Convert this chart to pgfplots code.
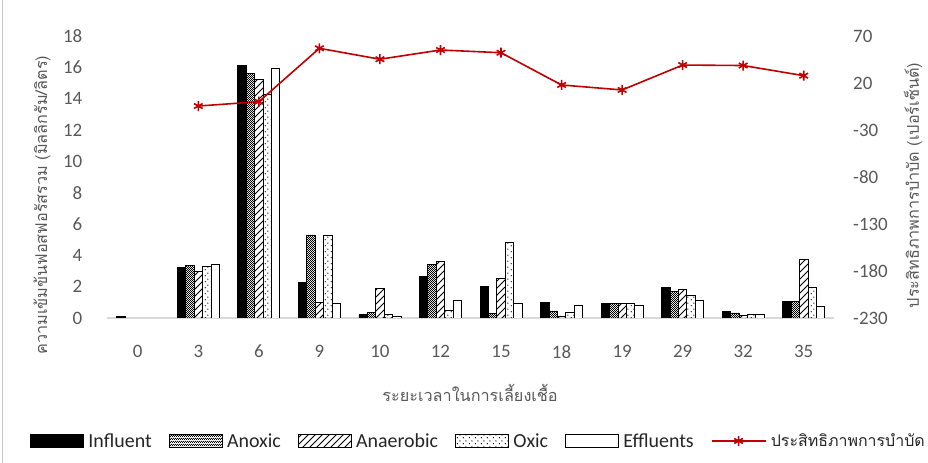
\documentclass[border=0pt]{standalone}
\usepackage{fontspec}
\setmainfont{Carlito}
\newfontfamily\thaifont[Script=Thai]{Loma}
\usepackage{pgfplots}
\pgfplotsset{compat=1.18}
\usetikzlibrary{patterns}
\definecolor{tickgray}{HTML}{595959}
\definecolor{textdark}{HTML}{262626}
\definecolor{linered}{HTML}{C00000}
\definecolor{basegray}{HTML}{D9D9D9}

\pgfdeclarepatternformonly{finecheck}{\pgfqpoint{0bp}{0bp}}{\pgfqpoint{2.4bp}{2.4bp}}{\pgfqpoint{2.4bp}{2.4bp}}{%
 \pgfpathrectangle{\pgfqpoint{0bp}{0bp}}{\pgfqpoint{1.2bp}{1.2bp}}%
 \pgfpathrectangle{\pgfqpoint{1.2bp}{1.2bp}}{\pgfqpoint{1.2bp}{1.2bp}}%
 \pgfusepath{fill}}
\pgfdeclarepatternformonly{widehatch}{\pgfqpoint{-1bp}{-1bp}}{\pgfqpoint{8bp}{8bp}}{\pgfqpoint{7bp}{7bp}}{%
 \pgfsetlinewidth{1bp}%
 \pgfpathmoveto{\pgfqpoint{0bp}{0bp}}\pgfpathlineto{\pgfqpoint{7.1bp}{7.1bp}}\pgfusepath{stroke}}
\pgfdeclarepatternformonly{sparsedots}{\pgfqpoint{0bp}{0bp}}{\pgfqpoint{6bp}{6bp}}{\pgfqpoint{6bp}{6bp}}{%
 \pgfpathcircle{\pgfqpoint{1.5bp}{1.5bp}}{0.75bp}%
 \pgfpathcircle{\pgfqpoint{4.5bp}{4.5bp}}{0.75bp}%
 \pgfusepath{fill}}

\pgfplotsset{
 barleg/.style={legend image code/.code={\draw[##1] (0bp,-6.5bp) rectangle (53bp,6.5bp);}},
 lineleg/.style={legend image code/.code={\draw[##1,mark repeat=2,mark phase=2] plot coordinates {(0bp,0bp) (27bp,0bp) (54bp,0bp)};}},
 base/.style={
  at={(107.5bp,145bp)}, anchor=south west,
  scale only axis, width=726.5bp, height=282bp,
  xmin=-0.5, xmax=11.5,
  major tick length=0pt,
  separate axis lines,
  tick label style={font=\fontsize{19}{20}\selectfont, text=tickgray},
  /pgf/number format/assume math mode=true,
 }
}

\begin{document}
\begin{tikzpicture}
\path[use as bounding box] (0,0) rectangle (928bp,463bp);
\fill[white] (0,0) rectangle (928bp,463bp);
\draw[gray!45, line width=1.2bp] (2.5bp,0) -- (2.5bp,463bp);
\begin{axis}[base,
 ymin=0, ymax=18, ytick={0,2,...,18},
 ybar=0pt, bar width=8.4bp,
 xtick={0,...,11}, xticklabels={0,3,6,9,10,12,15,18,19,29,32,35},
 axis x line*=bottom, axis y line*=left,
 x axis line style={draw=basegray, line width=1.3bp},
 y axis line style={draw=none},
 yticklabel style={anchor=east, inner sep=0pt, xshift=-25bp},
 xticklabel style={anchor=north, inner sep=0pt, yshift=-27bp},
 xlabel={\thaifont ระยะเวลาในการเลี้ยงเชื้อ},
 every axis x label/.style={at={(axis description cs:0.499,-0.266)}, anchor=center, font=\fontsize{16.3}{18}\selectfont, text=tickgray},
 ylabel={\thaifont ความเข้มข้นฟอสฟอรัสรวม (มิลลิกรัม/ลิตร)},
 every axis y label/.style={at={(axis description cs:-0.0902,0.40)}, rotate=90, anchor=center, font=\fontsize{16.3}{18}\selectfont, text=tickgray},
 every axis plot/.append style={draw=black, line width=0.8bp},
]
\addplot[fill=black] coordinates {(0,0.1) (1,3.24) (2,16.14) (3,2.27) (4,0.21) (5,2.65) (6,2.04) (7,0.98) (8,0.91) (9,1.93) (10,0.40) (11,1.06)};
\addplot[pattern=finecheck] coordinates {(1,3.33) (2,15.59) (3,5.30) (4,0.34) (5,3.39) (6,0.28) (7,0.45) (8,0.95) (9,1.72) (10,0.32) (11,1.06)};
\addplot[pattern=widehatch] coordinates {(1,2.99) (2,15.23) (3,0.98) (4,1.91) (5,3.63) (6,2.50) (7,0.13) (8,0.95) (9,1.85) (10,0.15) (11,3.73)};
\addplot[pattern=sparsedots] coordinates {(1,3.29) (2,14.27) (3,5.26) (4,0.21) (5,0.49) (6,4.84) (7,0.36) (8,0.95) (9,1.42) (10,0.21) (11,1.93)};
\addplot[fill=white] coordinates {(1,3.40) (2,15.90) (3,0.96) (4,0.10) (5,1.13) (6,0.96) (7,0.81) (8,0.81) (9,1.13) (10,0.23) (11,0.74)};
\end{axis}
\begin{axis}[base,
 ymin=-230, ymax=70, ytick={-230,-180,...,70},
 axis x line=none, axis y line*=right,
 y axis line style={draw=none},
 yticklabel style={anchor=west, inner sep=0pt, xshift=19bp},
 ylabel={\thaifont ประสิทธิภาพการบำบัด (เปอร์เซ็นต์)},
 every axis y label/.style={at={(axis description cs:1.109,0.47)}, rotate=90, anchor=center, font=\fontsize{16.3}{18}\selectfont, text=tickgray},
 legend columns=6,
 legend style={at={(axis description cs:-0.1067,-0.436)}, anchor=west, draw=none, fill=none, inner sep=0pt,
   nodes={inner sep=0pt},
   font=\fontsize{20}{21}\selectfont, text=textdark,
   /tikz/every odd column/.append style={column sep=4.5bp},
   /tikz/every even column/.append style={column sep=17bp}},
 legend cell align=left,
]
\addlegendimage{barleg, fill=black, draw=black, line width=0.8bp}
\addlegendentry{Influent}
\addlegendimage{barleg, pattern=finecheck, draw=black, line width=0.8bp}
\addlegendentry{Anoxic}
\addlegendimage{barleg, pattern=widehatch, draw=black, line width=0.8bp}
\addlegendentry{Anaerobic}
\addlegendimage{barleg, pattern=sparsedots, draw=black, line width=0.8bp}
\addlegendentry{Oxic}
\addlegendimage{barleg, fill=white, draw=black, line width=0.8bp}
\addlegendentry{Effluents}
\addplot[lineleg, color=linered, line width=1.6bp, mark=asterisk, mark size=5bp, mark options={line width=1.6bp}] coordinates {(1,-4.5) (2,0.1) (3,56.9) (4,45.3) (5,55.1) (6,52.2) (7,17.9) (8,12.6) (9,39.1) (10,38.6) (11,27.8)};
\addlegendentry{\thaifont\fontsize{16}{18}\selectfont ประสิทธิภาพการบำบัด}
\end{axis}
\end{tikzpicture}
\end{document}
